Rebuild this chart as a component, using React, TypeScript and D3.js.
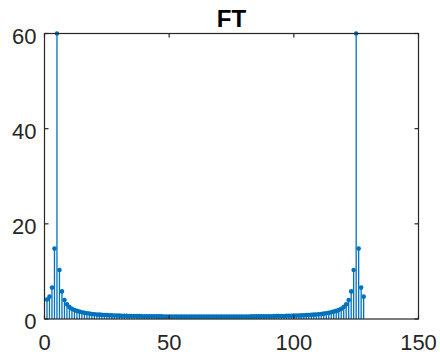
import React from "react";
import * as d3 from "d3";

const W = 440;
const H = 360;

const titleText = "FT";
const xTicks = [0, 50, 100, 150];
const yTicks = [0, 20, 40, 60];
const xDomain = [0, 150];
const yDomain = [0, 60];

// |FFT| magnitude, bins 1..128
const magnitudes = [
  4.1, 4.7, 6.6, 14.8, 60, 10.3, 5.8, 4.0, 3.1, 2.5,
  2.15, 1.9, 1.7, 1.55, 1.42, 1.3, 1.21, 1.13, 1.06, 1.0,
  0.95, 0.91, 0.87, 0.84, 0.81, 0.78, 0.76, 0.74, 0.72, 0.70,
  0.68, 0.67, 0.66, 0.64, 0.63, 0.62, 0.61, 0.60, 0.59, 0.59,
  0.58, 0.57, 0.57, 0.56, 0.56, 0.55, 0.55, 0.54, 0.54, 0.54,
  0.53, 0.53, 0.53, 0.52, 0.52, 0.52, 0.52, 0.51, 0.51, 0.51,
  0.51, 0.51, 0.51, 0.51, 0.51,
  0.51, 0.51, 0.51, 0.51, 0.51, 0.51, 0.51, 0.52, 0.52, 0.52,
  0.52, 0.53, 0.53, 0.53, 0.54, 0.54, 0.54, 0.55, 0.55, 0.56,
  0.56, 0.57, 0.57, 0.58, 0.59, 0.59, 0.60, 0.61, 0.62, 0.63,
  0.64, 0.66, 0.67, 0.68, 0.70, 0.72, 0.74, 0.76, 0.78, 0.81,
  0.84, 0.87, 0.91, 0.95, 1.0, 1.06, 1.13, 1.21, 1.3, 1.42,
  1.55, 1.7, 1.9, 2.15, 2.5, 3.1, 4.0, 5.8, 10.3, 60,
  14.8, 6.6, 4.7,
];
const bins = magnitudes.map((_, i) => i + 1);

const LEFT = 44.5;
const RIGHT = 418.5;
const TOP = 33.5;
const BOTTOM = 319;

const BLUE = "#0072BD";
const AXIS = "#262626";
const FONT = "'Liberation Sans', Arial, Helvetica, sans-serif";

export default function App() {
  const x = d3.scaleLinear().domain(xDomain).range([LEFT, RIGHT]);
  const y = d3.scaleLinear().domain(yDomain).range([BOTTOM, TOP]);
  const tickLen = 4;

  return (
    <svg
      width={W}
      height={H}
      style={{ position: "absolute", left: 0, top: 0, background: "#fff" }}
    >
      <rect x={0} y={0} width={W} height={H} fill="#fff" />
      {/* stems */}
      <g>
        {magnitudes.map((v, i) => (
          <line
            key={"s" + i}
            x1={x(bins[i])}
            x2={x(bins[i])}
            y1={y(0)}
            y2={y(v)}
            stroke={BLUE}
            strokeWidth={1.3}
          />
        ))}
        {magnitudes.map((v, i) => (
          <circle key={"m" + i} cx={x(bins[i])} cy={y(v)} r={2.3} fill={BLUE} />
        ))}
      </g>
      {/* box */}
      <rect
        x={LEFT}
        y={TOP}
        width={RIGHT - LEFT}
        height={BOTTOM - TOP}
        fill="none"
        stroke={AXIS}
        strokeWidth={1.2}
      />
      {/* ticks */}
      {xTicks.map((t) => (
        <g key={"xt" + t}>
          <line x1={x(t)} x2={x(t)} y1={BOTTOM} y2={BOTTOM - tickLen} stroke={AXIS} strokeWidth={1.2} />
          <line x1={x(t)} x2={x(t)} y1={TOP} y2={TOP + tickLen} stroke={AXIS} strokeWidth={1.2} />
          <text
            x={x(t)}
            y={BOTTOM + 31}
            textAnchor="middle"
            fontFamily={FONT}
            fontSize={22}
            fill={AXIS}
          >
            {t}
          </text>
        </g>
      ))}
      {yTicks.map((t) => (
        <g key={"yt" + t}>
          <line x1={LEFT} x2={LEFT + tickLen} y1={y(t)} y2={y(t)} stroke={AXIS} strokeWidth={1.2} />
          <line x1={RIGHT} x2={RIGHT - tickLen} y1={y(t)} y2={y(t)} stroke={AXIS} strokeWidth={1.2} />
          <text
            x={36.5}
            y={y(t) + 10}
            textAnchor="end"
            fontFamily={FONT}
            fontSize={22}
            fill={AXIS}
          >
            {t}
          </text>
        </g>
      ))}
      <text
        x={(LEFT + RIGHT) / 2}
        y={26.5}
        textAnchor="middle"
        fontFamily={FONT}
        fontSize={24}
        fontWeight="bold"
        fill="#000"
      >
        {titleText}
      </text>
    </svg>
  );
}
